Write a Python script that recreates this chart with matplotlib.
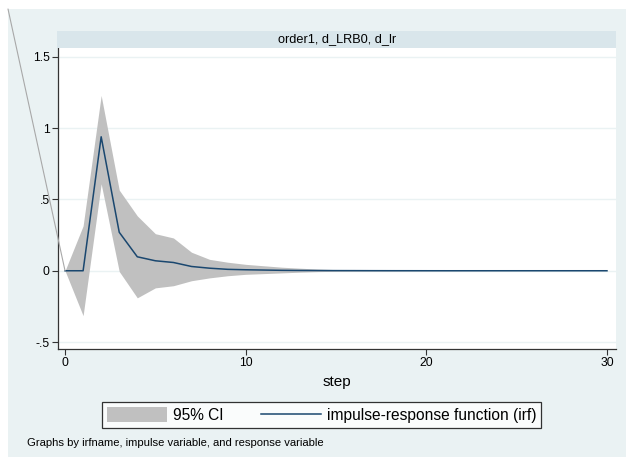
import numpy as np
import matplotlib
matplotlib.use('Agg')
import matplotlib.pyplot as plt
from matplotlib.patches import Rectangle, Patch
from matplotlib.lines import Line2D

plt.rcParams['font.family'] = ['Liberation Sans', 'DejaVu Sans']

# impulse-response of d_lr to d_LRB0, steps 0..30
step = np.arange(31)
irf = [0, 0, 0.94, 0.27, 0.098, 0.07, 0.058, 0.03, 0.018, 0.01,
       0.007, 0.005, 0.003, 0.002, 0.0015, 0.001, 0.0008, 0.0005, 0.0003, 0.0002,
       0.0001, 0, 0, 0, 0, 0, 0, 0, 0, 0, 0]
ci_hi = [0, 0.315, 1.23, 0.566, 0.385, 0.26, 0.23, 0.13, 0.08, 0.06,
         0.045, 0.035, 0.025, 0.018, 0.012, 0.008, 0.005, 0.003, 0.002, 0.0015,
         0.001, 0.0008, 0.0006, 0.0005, 0.0004, 0.0003, 0.0002, 0.0002, 0.0001, 0.0001, 0.0001]
ci_lo = [0, -0.315, 0.61, -0.005, -0.19, -0.12, -0.105, -0.07, -0.05, -0.035,
         -0.025, -0.02, -0.015, -0.01, -0.006, -0.004, -0.003, -0.002, -0.0015, -0.001,
         -0.0008, -0.0006, -0.0005, -0.0004, -0.0003, -0.0002, -0.0002, -0.0001, -0.0001, -0.0001, -0.0001]
yticks = [-0.5, 0, 0.5, 1, 1.5]
ytick_labels = ['-.5', '0', '.5', '1', '1.5']
xticks = [0, 10, 20, 30]

W, H = 626, 461
bg = '#EAF2F3'
navy = '#1A476F'
band = '#C0C0C0'

fig = plt.figure(figsize=(W / 100, H / 100), dpi=100)
fig.patch.set_facecolor('white')
fig.patches.append(Rectangle((8 / W, 1 - 457 / H), (W - 8) / W, (457 - 9) / H,
                             transform=fig.transFigure, facecolor=bg,
                             edgecolor='none', zorder=-10))

ax = fig.add_axes([58 / W, 1 - 349 / H, 558 / W, 301 / H])
ax.set_facecolor('white')

ax.fill_between(step, ci_lo, ci_hi, color=band, linewidth=0, zorder=2)
ax.plot(step, irf, color=navy, linewidth=1.1, zorder=3)

ax.set_xlim(-0.39, 30.5)
ax.set_ylim(-0.549, 1.563)
ax.set_yticks(yticks)
ax.set_yticklabels(ytick_labels)
ax.set_xticks(xticks)
ax.grid(axis='y', color=bg, linewidth=1.0, zorder=1)
ax.set_axisbelow(True)
for s in ['top', 'right']:
    ax.spines[s].set_visible(False)
for s in ['left', 'bottom']:
    ax.spines[s].set_color('#333333')
    ax.spines[s].set_linewidth(0.9)
ax.tick_params(axis='both', direction='out', length=4, width=0.8,
               color='#333333', labelsize=8.7, pad=2)
ax.set_xlabel('step', fontsize=11, labelpad=4)

# the stray line running into the first point
ax.annotate('', xy=(0, 0), xycoords='data',
            xytext=(8 / W, 1 - 9 / H), textcoords='figure fraction',
            arrowprops=dict(arrowstyle='-', color='#A8A8A8', lw=0.8,
                            shrinkA=0, shrinkB=0), annotation_clip=False)

# title strip
fig.patches.append(Rectangle((57 / W, 1 - 48 / H), 559 / W, 17 / H,
                             transform=fig.transFigure, facecolor='#D9E6EB',
                             edgecolor='none'))
fig.text(337 / W, 1 - 39.5 / H, 'order1, d_LRB0, d_lr', ha='center', va='center',
         fontsize=9.2)

handles = [Patch(facecolor=band, edgecolor='none'),
           Line2D([], [], color=navy, linewidth=1.1)]
leg = fig.legend(handles, ['95% CI', 'impulse-response function (irf)'],
                 loc='center', bbox_to_anchor=(321.5 / W, 1 - 415 / H),
                 bbox_transform=fig.transFigure, ncol=2, fontsize=11.2,
                 frameon=True, fancybox=False, edgecolor='black',
                 handlelength=3.9, handleheight=1.1, handletextpad=0.35,
                 columnspacing=2.4, borderpad=0.3, borderaxespad=0)
leg.get_frame().set_linewidth(0.9)

fig.text(27 / W, 1 - 443 / H,
         'Graphs by irfname, impulse variable, and response variable',
         ha='left', va='center', fontsize=8.1)

fig.savefig('out.png', dpi=100, facecolor='white')
